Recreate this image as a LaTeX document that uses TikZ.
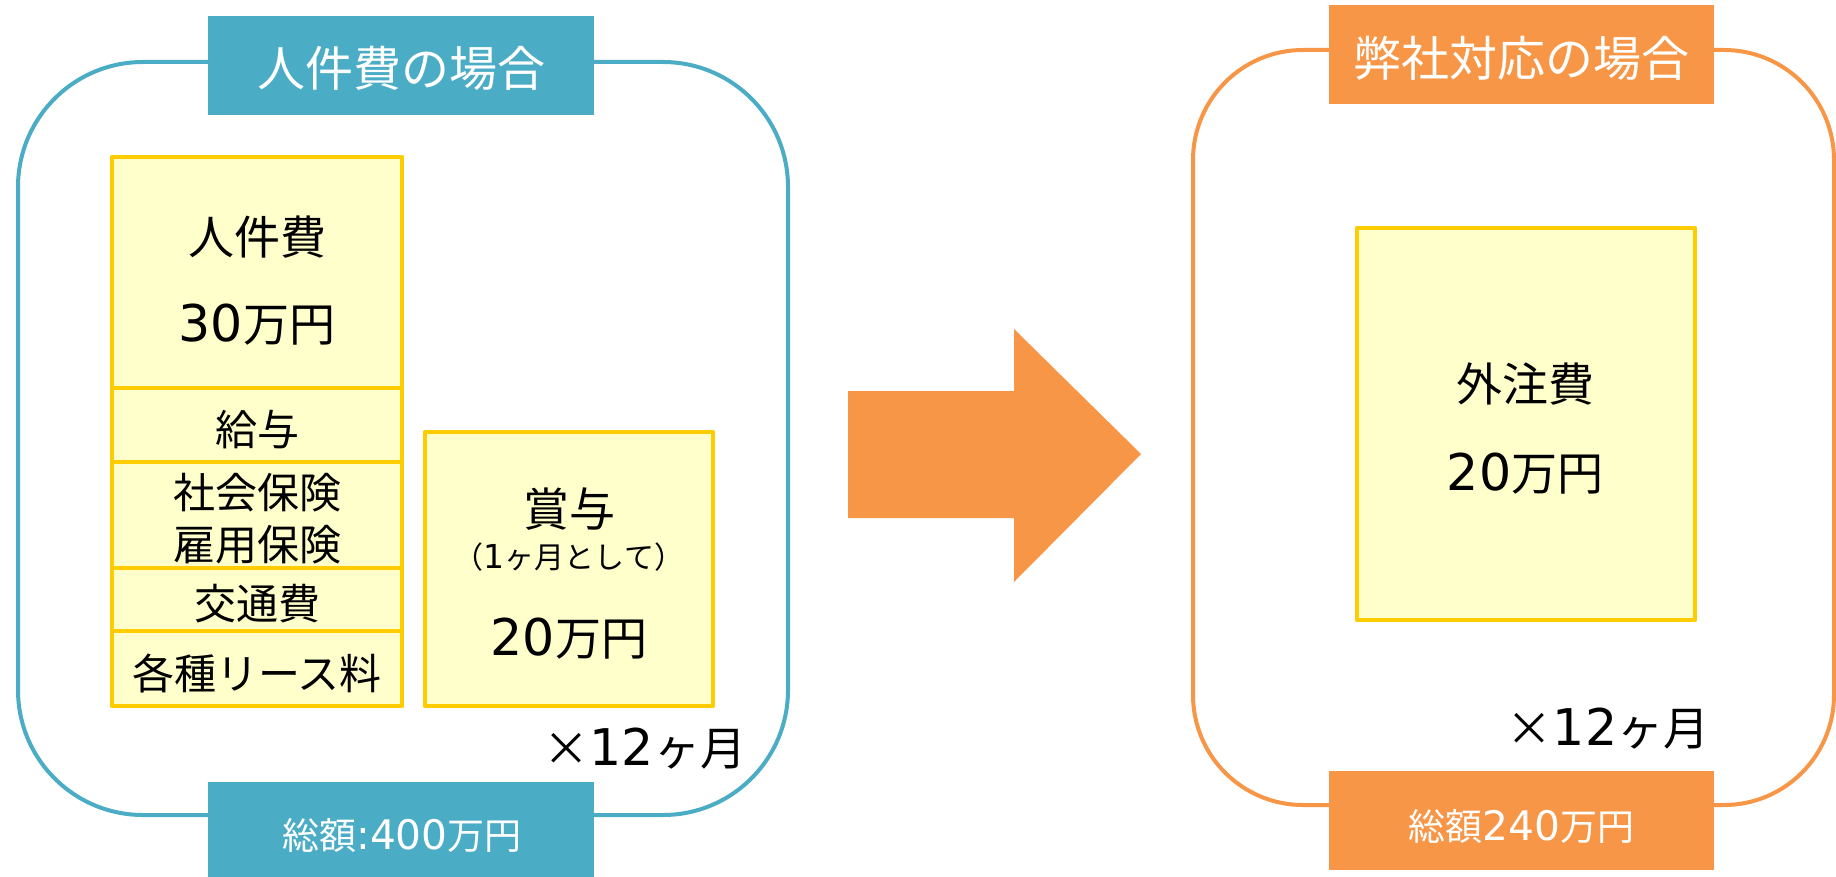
\documentclass[tikz,border=0pt]{standalone}
\usepackage{fontspec}
\setmainfont{Noto Sans CJK JP}
\newfontfamily\dg{DejaVu Sans}[Scale=1.1]
\definecolor{pblue}{HTML}{4BACC6}
\definecolor{porange}{HTML}{F79646}
\definecolor{yfill}{HTML}{FFFFCC}
\definecolor{ydraw}{HTML}{FFCC00}
\tikzset{
  panel/.style={line width=4pt},
  tag/.style={fill=#1, draw=none, inner sep=0pt},
  tagtext/.style={text=white, inner sep=0pt},
  ybox/.style={fill=yfill, draw=ydraw, line width=4.5pt, line join=round, inner sep=0pt},
  txt/.style={inner sep=0pt, text=black, align=center},
  head/.style={font=\fontsize{48}{52}\selectfont},
  big/.style={font=\fontsize{46}{52}\selectfont},
  mid/.style={font=\fontsize{42}{52}\selectfont},
  small/.style={font=\fontsize{30}{36}\selectfont},
  foot/.style={font=\fontsize{37}{44}\selectfont},
}
\begin{document}
\begin{tikzpicture}[x=1pt,y=-1pt]
\useasboundingbox[fill=white] (0,0) rectangle (1836,877);
% ---------- left panel ----------
\draw[panel, draw=pblue, rounded corners=125pt] (18,62) rectangle (788,815);
\node[tag=pblue, minimum width=386, minimum height=99] (lhead) at (401,65.5) {};
\node[tagtext, head] (lheadt) at (401,68) {人件費の場合};
\node[tag=pblue, minimum width=386, minimum height=100] (lfoot) at (401,832) {};
\node[tagtext, foot] (lfoott) at (402,835) {総額{\dg :400}万円};

\node[ybox, minimum width=290, minimum height=231] (boxA) at (257,272.5) {};
\node[ybox, minimum width=290, minimum height=74] (boxB) at (257,425) {};
\node[ybox, minimum width=290, minimum height=106] (boxC) at (257,515) {};
\node[ybox, minimum width=290, minimum height=63] (boxD) at (257,599.5) {};
\node[ybox, minimum width=290, minimum height=75] (boxE) at (257,668.5) {};
\node[ybox, minimum width=288, minimum height=274] (boxF) at (569,569) {};

\node[txt, big] (tA1) at (257,237) {人件費};
\node[txt, big] (tA2) at (257,325) {{\dg 30}万円};
\node[txt, mid] (tB) at (257,430) {給与};
\node[txt, mid, font=\fontsize{42}{52}\selectfont] (tC) at (257,519) {社会保険\\雇用保険};
\node[txt, mid] (tD) at (257,604) {交通費};
\node[txt, mid] (tE) at (257,673) {各種リース料};
\node[txt, big] (tF1) at (569,509) {賞与};
\node[txt, small] (tF2) at (569,557) {（{\dg 1}ヶ月として）};
\node[txt, big] (tF3) at (569,639) {{\dg 20}万円};
\node[txt, big] (tL12) at (645,749) {×{\dg 12}ヶ月};

% ---------- arrow ----------
\fill[porange] (848,391) -- (1014,391) -- (1014,329) -- (1141,454) -- (1014,582) -- (1014,518) -- (848,518) -- cycle;

% ---------- right panel ----------
\draw[panel, draw=porange, rounded corners=110pt] (1193,50) rectangle (1834,805);
\node[tag=porange, minimum width=385, minimum height=99] (rhead) at (1521.5,54.5) {};
\node[tagtext, head] (rheadt) at (1521.5,58) {弊社対応の場合};
\node[tag=porange, minimum width=385, minimum height=99] (rfoot) at (1521.5,820.5) {};
\node[tagtext, foot] (rfoott) at (1521.5,826) {総額{\dg 240}万円};

\node[ybox, minimum width=338, minimum height=392] (boxR) at (1526,424) {};
\node[txt, big] (tR1) at (1525,384) {外注費};
\node[txt, big] (tR2) at (1525,474) {{\dg 20}万円};
\node[txt, big] (tR12) at (1608,729) {×{\dg 12}ヶ月};
\end{tikzpicture}
\end{document}
